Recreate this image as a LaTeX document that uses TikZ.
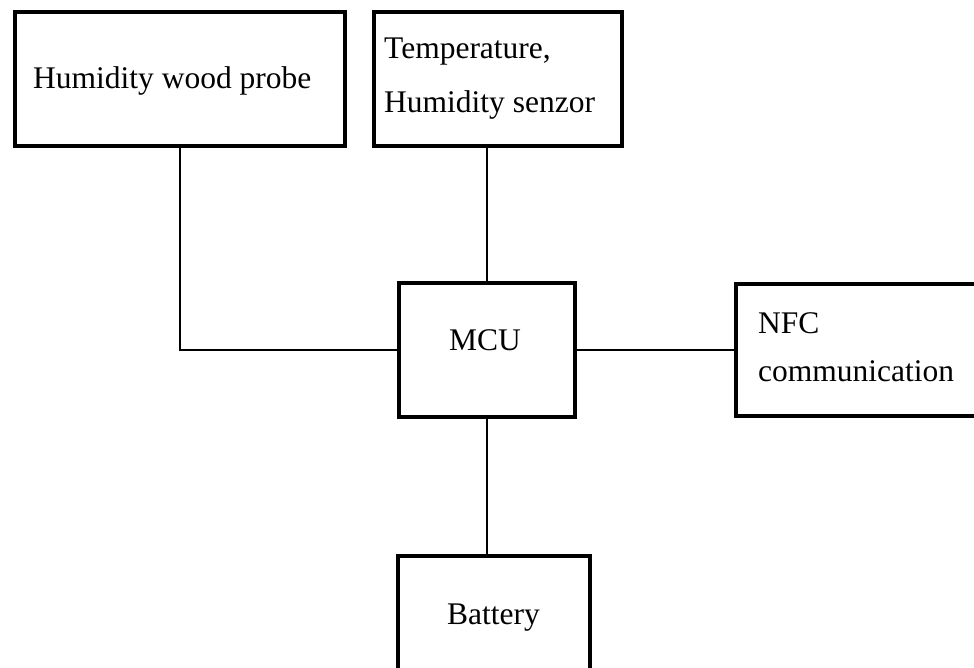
\documentclass[tikz,border=0pt]{standalone}
\usepackage{fontspec}
\setmainfont{Liberation Serif}
\begin{document}
\begin{tikzpicture}[x=1pt,y=-1pt,
  box/.style={draw=black, line width=4pt, rectangle, inner sep=0pt},
  wire/.style={draw=black, line width=1.6pt},
  lbl/.style={inner sep=0pt, anchor=base west, font=\fontsize{31.5}{38}\selectfont}]
\path[use as bounding box, clip] (0,0) rectangle (974,667);
\fill[white] (0,0) rectangle (974,667);
% boxes
\node[box, minimum width=330, minimum height=134] (probe) at (180,79) {};
\node[box, minimum width=248, minimum height=134] (sensor) at (498,79) {};
\node[box, minimum width=176, minimum height=134] (mcu) at (487,350) {};
\node[box, minimum width=264, minimum height=132] (nfc) at (868,350) {};
\node[box, minimum width=192, minimum height=144] (battery) at (494,628) {};
% texts
\node[lbl] (tprobe) at (33,88) {Humidity wood probe};
\node[lbl] (tsens1) at (384,58) {Temperature,};
\node[lbl] (tsens2) at (384,112) {Humidity senzor};
\node[lbl] (tmcu) at (449,350) {MCU};
\node[lbl] (tnfc1) at (758,333) {NFC};
\node[lbl] (tnfc2) at (758,381) {communication};
\node[lbl] (tbat) at (447,624) {Battery};
% connectors
\draw[wire] (probe.south) |- (mcu.west);
\draw[wire] (mcu.north) -- (mcu.north |- sensor.south);
\draw[wire] (mcu.east) -- (nfc.west);
\draw[wire] (mcu.south) -- (mcu.south |- battery.north);
\end{tikzpicture}
\end{document}
